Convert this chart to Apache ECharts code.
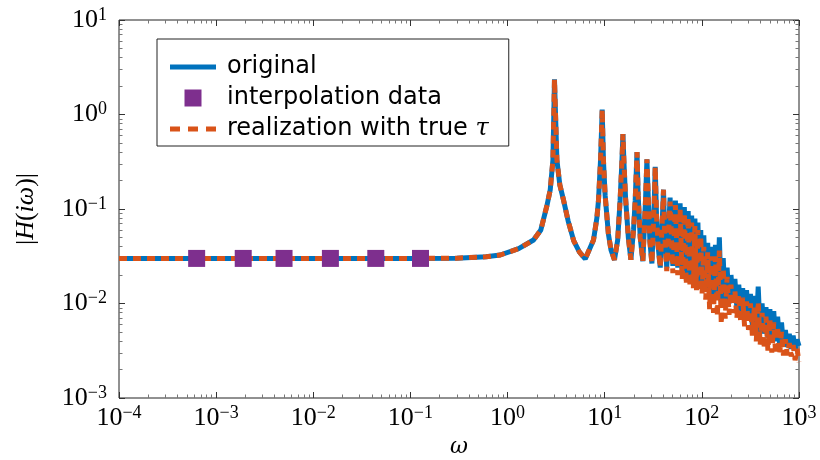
<!DOCTYPE html>
<html>
<head>
<meta charset="utf-8">
<title>|H(iω)|</title>
<script src="https://cdn.jsdelivr.net/npm/echarts@6.0.0/dist/echarts.min.js"></script>
<style>
  html, body { margin: 0; padding: 0; background: #fff; }
  #main { width: 820px; height: 460px; }
</style>
</head>
<body>
<div id="main"></div>
<script>
  // frequency grid, shared by both curves
  var omega = [1e-4, 1e-3, 1e-2, 0.1, 0.3, 0.6, 0.84, 1.3, 1.85, 2.2, 2.55, 2.75, 2.93, 3.04, 3.22, 3.45, 3.77, 4.2, 4.8, 5.5, 6.3,
    7.67, 8.3, 8.63, 9.06, 9.42, 9.7, 10.1, 10.9, 11.6, 12.6,
    13.6, 14.4, 15.0, 15.4, 15.8, 16.4, 17.5, 18.6,
    19.8, 20.6, 21.5, 22.1, 23.2, 24.7,
    26.3, 27.2, 28.1, 29.2, 30.6,
    32.3, 33.1, 34.2, 35.5, 37.3,
    39.4, 40.3, 41.3, 43.5,
    47.1, 50.3, 53.4, 56.5, 59.7, 62.8, 66.0, 69.1, 72.3, 75.4, 78.5, 81.7, 84.8, 88.0, 91.1, 94.2, 97.4, 100.5,
    104.7, 109.6, 114.8, 120.2, 125.9, 131.8, 138.0, 144.5, 151.4, 158.5, 166.0, 173.8, 182.0, 190.5, 199.5,
    208.9, 218.8, 229.1, 239.9, 251.2, 263.0, 275.4, 288.4, 302.0, 316.2, 331.1, 346.7, 363.1, 380.2, 398.1,
    416.9, 436.5, 457.1, 478.6, 501.2, 524.8, 549.5, 575.4, 602.6, 631.0, 660.7, 691.8, 724.4, 758.6, 794.3,
    831.8, 871.0, 912.0, 955.0, 1000];

  // |H(iw)| of the original system
  var hOriginal = [0.03, 0.03, 0.03, 0.03, 0.0302, 0.0312, 0.0326, 0.038, 0.047, 0.06, 0.11, 0.16, 0.33, 2.36, 0.33, 0.18, 0.124, 0.075, 0.046, 0.035, 0.0296,
    0.047, 0.08, 0.124, 0.33, 1.13, 0.33, 0.14, 0.055, 0.037, 0.029,
    0.047, 0.124, 0.3, 0.62, 0.3, 0.13, 0.05, 0.029,
    0.06, 0.124, 0.40, 0.14, 0.05, 0.028,
    0.124, 0.336, 0.13, 0.045, 0.0265,
    0.11, 0.28, 0.08, 0.04, 0.024,
    0.09, 0.16, 0.06, 0.024,
    0.132, 0.025, 0.123, 0.024, 0.115, 0.022, 0.105, 0.020, 0.095, 0.019, 0.085, 0.018, 0.079, 0.0174, 0.072, 0.0166, 0.060, 0.0158,
    0.0525, 0.0151, 0.0437, 0.0138, 0.0398, 0.0126, 0.0417, 0.0115, 0.0501, 0.0105, 0.0302, 0.00955, 0.0240, 0.0100, 0.0200,
    0.0105, 0.0182, 0.00912, 0.0158, 0.00832, 0.0145, 0.00759, 0.0138, 0.00661, 0.0126, 0.00575, 0.0120, 0.00525, 0.0151,
    0.00501, 0.0100, 0.00479, 0.00912, 0.00437, 0.00871, 0.00417, 0.00832, 0.00398, 0.00724, 0.00380, 0.00631, 0.00363, 0.00525,
    0.00347, 0.00479, 0.00331, 0.00457, 0.00316, 0.00417, 0.00355];

  // |H(iw)| of the realization with true tau
  var hRealization = [0.03, 0.03, 0.03, 0.03, 0.0302, 0.0312, 0.0326, 0.038, 0.047, 0.06, 0.11, 0.16, 0.33, 2.36, 0.33, 0.18, 0.124, 0.075, 0.046, 0.035, 0.0296,
    0.047, 0.08, 0.124, 0.33, 1.13, 0.33, 0.14, 0.055, 0.037, 0.029,
    0.047, 0.124, 0.3, 0.62, 0.3, 0.13, 0.05, 0.029,
    0.06, 0.124, 0.40, 0.14, 0.05, 0.028,
    0.124, 0.336, 0.13, 0.045, 0.0265,
    0.11, 0.28, 0.08, 0.04, 0.024,
    0.09, 0.16, 0.06, 0.022,
    0.120, 0.0209, 0.110, 0.020, 0.100, 0.018, 0.091, 0.0158, 0.083, 0.0151, 0.072, 0.0145, 0.066, 0.0138, 0.060, 0.0132, 0.052, 0.0126,
    0.0398, 0.0110, 0.0347, 0.00871, 0.0316, 0.00794, 0.0316, 0.00724, 0.0363, 0.00603, 0.0240, 0.00692, 0.0191, 0.00759, 0.0158,
    0.00794, 0.0138, 0.00692, 0.0126, 0.00631, 0.0115, 0.00575, 0.0105, 0.00525, 0.0100, 0.00457, 0.00912, 0.00398, 0.0105,
    0.00363, 0.00794, 0.00331, 0.00724, 0.00316, 0.00692, 0.00302, 0.00631, 0.00288, 0.00575, 0.00288, 0.00501, 0.00282, 0.00417,
    0.00282, 0.00380, 0.00275, 0.00363, 0.00251, 0.00331, 0.00240];

  // interpolation points
  var omegaInterp = [6.3e-4, 1.9e-3, 5.0e-3, 1.5e-2, 4.4e-2, 0.127];
  var hInterp = [0.03, 0.03, 0.03, 0.03, 0.03, 0.03];

  var xTicks = [1e-4, 1e-3, 1e-2, 1e-1, 1, 10, 100, 1000];
  var yTicks = [1e-3, 1e-2, 1e-1, 1, 10];

  function minorTicks(lo, hi) {
    var out = [];
    for (var k = lo; k < hi; k++) {
      for (var m = 2; m < 10; m++) out.push(m * Math.pow(10, k));
    }
    return out;
  }

  function powLabel(v) {
    var e = Math.round(Math.log(v) / Math.LN10);
    return '{b|10}{e|' + (e < 0 ? '\u2212' + (-e) : e) + '}';
  }

  var labelRich = {
    b: { fontFamily: 'Liberation Serif', fontSize: 26, color: '#000', lineHeight: 28 },
    e: { fontFamily: 'Liberation Serif', fontSize: 18, color: '#000', verticalAlign: 'top', lineHeight: 18 }
  };

  function axis(dim, pos, ticks, major, labels) {
    return {
      type: 'log', logBase: 10, position: pos,
      min: dim === 'x' ? 1e-4 : 1e-3,
      max: dim === 'x' ? 1e3 : 10,
      axisLine: { show: false },
      splitLine: { show: false },
      axisTick: { inside: true, length: major ? 6 : 3.5, customValues: ticks,
        lineStyle: { color: major ? '#333' : '#777', width: 1 } },
      axisLabel: { show: !!labels, customValues: ticks, formatter: powLabel, rich: labelRich,
        margin: dim === 'x' ? 6 : 12 }
    };
  }

  var xMinor = minorTicks(-4, 3), yMinor = minorTicks(-3, 1);

  var xAxes = [
    axis('x', 'bottom', xTicks, true, true),
    axis('x', 'top', xTicks, true, false),
    axis('x', 'bottom', xMinor, false, false),
    axis('x', 'top', xMinor, false, false)
  ];
  xAxes[0].name = 'ω';
  xAxes[0].nameLocation = 'middle';
  xAxes[0].nameGap = 37;
  xAxes[0].nameTextStyle = { fontFamily: 'DejaVu Serif', fontStyle: 'italic', fontSize: 22, color: '#000' };

  var yAxes = [
    axis('y', 'left', yTicks, true, true),
    axis('y', 'right', yTicks, true, false),
    axis('y', 'left', yMinor, false, false),
    axis('y', 'right', yMinor, false, false)
  ];
  yAxes[0].name = '{n||}{m|H}{n|(}{m|iω}{n|)|}';
  yAxes[0].nameLocation = 'middle';
  yAxes[0].nameGap = 80;
  yAxes[0].nameTextStyle = {
    rich: {
      n: { fontFamily: 'Liberation Serif', fontSize: 26, color: '#000' },
      m: { fontFamily: 'Liberation Serif', fontStyle: 'italic', fontSize: 26, color: '#000' }
    }
  };

  function pairs(xs, ys) {
    return xs.map(function (x, i) { return [x, ys[i]]; });
  }

  var myChart = echarts.init(document.getElementById('main'));
  var option = {
    animation: false,
    backgroundColor: '#fff',
    grid: { left: 119, right: 21, top: 20, bottom: 62, show: true, borderColor: '#222', borderWidth: 1,
      containLabel: false, outerBoundsMode: 'none' },
    xAxis: xAxes,
    yAxis: yAxes,
    legend: {
      data: [
        { name: 'original', icon: 'path://M0,0H46V5H0Z', itemStyle: { color: '#0072BD' } },
        { name: 'interpolation data', icon: 'path://M0,0H17V17H0Z', itemStyle: { color: '#7E2F8E', opacity: 1 } },
        { name: 'realization with true τ', icon: 'path://M0,0H10V5H0Z M18,0H28V5H18Z M36,0H46V5H36Z', itemStyle: { color: '#D95319' } }
      ],
      orient: 'vertical',
      left: 157, top: 39,
      padding: [16, 20, 5, 13],
      itemWidth: 46, itemHeight: 17, itemGap: 7,
      symbolKeepAspect: true,
      borderColor: '#222', borderWidth: 1, backgroundColor: '#fff',
      formatter: function (name) {
        if (name.indexOf('τ') >= 0) return '{t|realization with true }{g|τ}';
        return '{t|' + name + '}';
      },
      textStyle: {
        rich: {
          t: { fontFamily: 'DejaVu Sans', fontSize: 24, color: '#000', lineHeight: 27, padding: [0, 0, 0, 6] },
          g: { fontFamily: 'DejaVu Serif', fontStyle: 'italic', fontSize: 24, color: '#000', lineHeight: 27 }
        }
      }
    },
    series: [
      {
        name: 'original', type: 'line', xAxisIndex: 0, yAxisIndex: 0,
        data: pairs(omega, hOriginal),
        symbol: 'none', color: '#0072BD',
        lineStyle: { width: 5, color: '#0072BD' }, z: 2
      },
      {
        name: 'realization with true τ', type: 'line', xAxisIndex: 0, yAxisIndex: 0,
        data: pairs(omega, hRealization),
        symbol: 'none', color: '#D95319',
        lineStyle: { width: 5, color: '#D95319', type: [8, 6] }, z: 3
      },
      {
        name: 'interpolation data', type: 'scatter', xAxisIndex: 0, yAxisIndex: 0,
        data: pairs(omegaInterp, hInterp),
        symbol: 'rect', symbolSize: 17,
        itemStyle: { color: '#7E2F8E', opacity: 1 }, z: 4
      }
    ]
  };
  myChart.setOption(option);
</script>
</body>
</html>
